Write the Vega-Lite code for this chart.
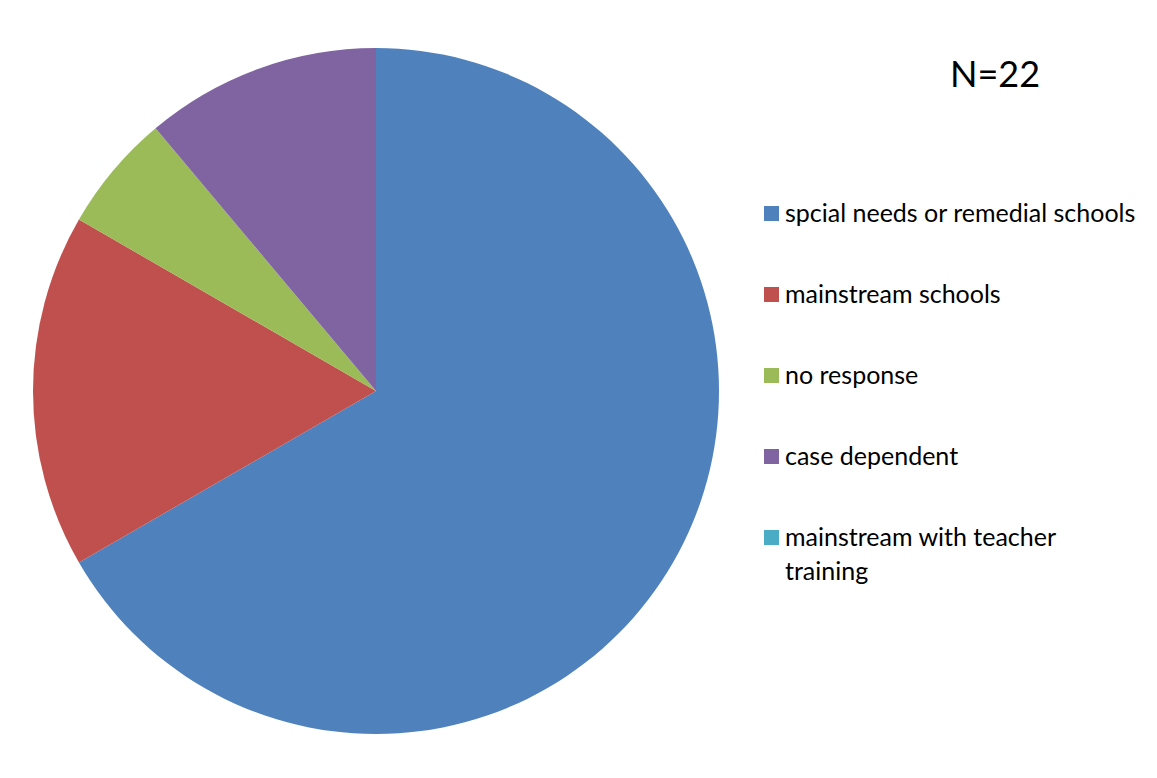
{
  "$schema": "https://vega.github.io/schema/vega-lite/v6.json",
  "autosize": {"type": "none"},
  "width": 686,
  "height": 686,
  "padding": {"left": 33, "top": 48, "right": 438, "bottom": 44},
  "background": "white",
  "config": {"view": {"stroke": null}, "font": "Lato", "style": {"guide-label": {"lineHeight": 34}}},
  "title": {
    "text": "N=22",
    "anchor": "start",
    "frame": "group",
    "orient": "top",
    "dx": 917,
    "dy": 51,
    "fontSize": 36,
    "font": "Lato",
    "fontWeight": "normal",
    "color": "black"
  },
  "data": {
    "values": [
      {"category": "spcial needs or remedial schools", "count": 12, "rank": 1},
      {"category": "mainstream schools", "count": 3, "rank": 2},
      {"category": "no response", "count": 1, "rank": 3},
      {"category": "case dependent", "count": 2, "rank": 4},
      {"category": "mainstream with teacher training", "count": 0, "rank": 5}
    ]
  },
  "mark": {"type": "arc", "stroke": null},
  "encoding": {
    "theta": {"field": "count", "type": "quantitative", "stack": true},
    "order": {"field": "rank", "type": "quantitative"},
    "color": {
      "field": "category",
      "type": "nominal",
      "scale": {
        "domain": ["spcial needs or remedial schools", "mainstream schools", "no response", "case dependent", "mainstream with teacher training"],
        "range": ["#4F81BD", "#C0504D", "#9BBB59", "#8064A2", "#4BACC6"]
      },
      "legend": {
        "title": null,
        "orient": "none",
        "legendX": 726,
        "legendY": 153,
        "padding": 0,
        "symbolType": "square",
        "symbolSize": 225,
        "symbolStrokeWidth": 0,
        "symbolOpacity": 1,
        "labelFont": "Lato",
        "labelFontSize": 25,
        "labelColor": "black",
        "labelOffset": 1,
        "labelLimit": 420,
        "rowPadding": 55,
        "labelExpr": "datum.label == 'mainstream with teacher training' ? ['mainstream with teacher', 'training'] : datum.label"
      }
    }
  }
}
